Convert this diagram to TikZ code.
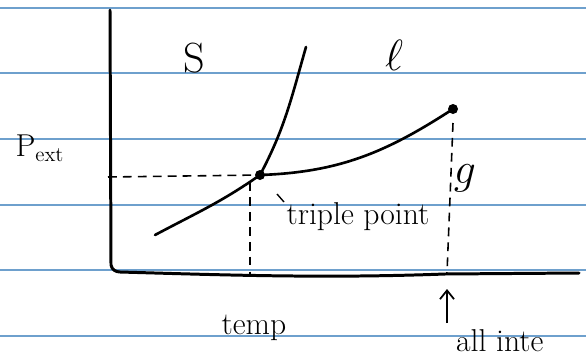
\documentclass[tikz,border=0pt]{standalone}
\usepackage{xcolor}
\usetikzlibrary{arrows.meta}

\definecolor{ruled}{RGB}{110,160,205}

\tikzset{
  curve/.style={line width=1.5pt, line cap=round},
  guide/.style={line width=0.9pt, dash pattern=on 5pt off 3.5pt},
  phase/.style={font=\fontsize{24}{28}\selectfont},
  hand/.style={font=\fontsize{18}{21}\selectfont}
}

\begin{document}
\begin{tikzpicture}[scale=1]
      % \draw[help lines, gray!50, very thin] (0,0) grid (12,7);
      \useasboundingbox (0,0) rectangle (11.72,7.12);
      \clip (0,0) rectangle (11.72,7.12);

      % paper lines
      \foreach \y in {6.96,5.66,4.34,3.02,1.72,0.40}
        \draw[ruled, line width=1pt] (0,\y) -- (11.72,\y);

      % axes
      \draw[curve, line width=1.7pt] (2.2,6.92) -- (2.22,1.82) to[out=-80,in=180] (2.4,1.68)
        .. controls (4.5,1.62) and (6.5,1.55) .. (8.9,1.64) -- (11.58,1.66);

      \coordinate (sg) at (3.1,2.42);
      \coordinate (tp) at (5.2,3.62);
      \coordinate (sl) at (6.12,6.18);
      \coordinate (cp) at (9.06,4.94);
      \coordinate (yax) at (2.16,3.58);
      \coordinate (tbot) at (5.0,1.58);
      \coordinate (cbot) at (8.94,1.66);

      % phase boundaries
      \draw[curve] (sg) to[out=28,in=215] (tp) to[out=62,in=254] (sl);
      \draw[curve] (tp) to[out=2,in=213] (cp);
      \fill (tp) circle (0.1);
      \fill (cp) circle (0.1);

      % guides
      \draw[guide] (yax) -- (tp);
      \draw[guide] (5.0,3.48) -- (tbot);
      \draw[guide] (9.06,4.66) -- (cbot);

      \node[phase] (s) at (3.88,5.96) {S};
      \node[phase] (l) at (7.88,6.02) {$\ell$};
      \node[phase] (g) at (9.3,3.56) {$g$};
      \node[hand] (pext) at (0.8,4.16) {P$_{\mathrm{ext}}$};

      \node[hand] (triple) at (7.16,2.78) {triple point};
      \draw[line width=0.8pt] (5.54,3.24) -- (5.68,3.08);

      \node[hand] (temp) at (5.08,0.56) {temp};

      \node[hand, anchor=base west] (allint) at (9.0,0.1) {all inte};
      \draw[-{Straight Barb[length=5pt,width=8pt]}, line width=1pt] (8.94,0.66) -- (8.94,1.34);
    \end{tikzpicture}
\end{document}
